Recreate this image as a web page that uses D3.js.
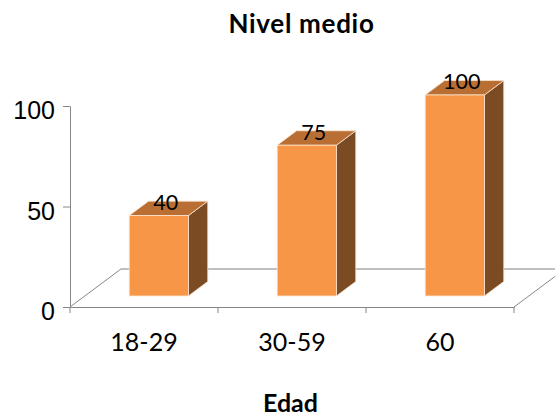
<!DOCTYPE html>
<html lang="es">
<head>
    <meta charset="utf-8"/>
    <style>
        body {
            margin: 0;
            background: #fff;
        }
        svg {
            display: block;
            font-family: Lato, "Open Sans", sans-serif;
        }
        .floor-back {
            stroke: #bfbfbf;
            stroke-width: 2px;
            fill: none;
        }
        .floor-front {
            stroke: #868686;
            stroke-width: 1px;
            fill: none;
        }
        .axis path, .axis line {
            stroke: #868686;
        }
        .axis text {
            font-size: 25px;
            fill: #000;
        }
    </style>
    <script src="https://d3js.org/d3.v7.min.js" charset="utf-8"></script>
</head>
<body>
<svg id="chart" width="555" height="418"></svg>
<script>
    // data
    var categories = ['18-29', '30-59', '60'];
    var values = [40, 75, 100];
    var yTicks = [0, 50, 100];
    var title = 'Nivel medio';
    var xTitle = 'Edad';

    var svg = d3.select('#chart');

    // oblique depth: full floor depth moves (51, -38)
    var depthX = 51, depthY = -38;
    var zFront = 0.29, zBack = 0.67;

    var x = d3.scaleBand()
        .domain(categories)
        .range([70, 514])
        .paddingInner(0.6)
        .paddingOuter(0.3);
    var xCat = d3.scaleBand()
        .domain(categories)
        .range([70, 514]);
    var y = d3.scaleLinear()
        .domain([0, 100])
        .range([307, 106]);

    function pt(px, py, z) {
        return [px + z * depthX, py + z * depthY];
    }

    var x0 = 70, x1 = 514, yBase = y(0);

    // floor
    svg.append('path')
        .classed('floor-back', true)
        .attr('d', d3.line()([pt(x0, yBase, 1), pt(x1, yBase, 1)]));
    svg.append('path')
        .classed('floor-front', true)
        .attr('d', d3.line()([pt(x0, yBase, 0), pt(x0, yBase, 1)]));
    svg.append('path')
        .classed('floor-front', true)
        .attr('d', d3.line()([pt(x1, yBase, 0), pt(x1, yBase, 1)]));

    // bars
    var dx = (zBack - zFront) * depthX, dy = (zBack - zFront) * depthY;
    var bars = svg.selectAll('g.bar')
        .data(values)
        .enter().append('g')
        .classed('bar', true);

    bars.append('path')
        .attr('fill', '#7b4b24')
        .attr('stroke', '#fbe3cf')
        .attr('stroke-width', 0.8)
        .attr('d', function(d, i) {
            var a = pt(x(categories[i]) + x.bandwidth(), y(d), zFront),
                b = pt(x(categories[i]) + x.bandwidth(), y(0), zFront);
            return d3.line()([a, [a[0] + dx, a[1] + dy], [b[0] + dx, b[1] + dy], b]) + 'Z';
        });
    bars.append('path')
        .attr('fill', '#b96f34')
        .attr('stroke', '#fbe3cf')
        .attr('stroke-width', 0.8)
        .attr('d', function(d, i) {
            var a = pt(x(categories[i]), y(d), zFront),
                b = pt(x(categories[i]) + x.bandwidth(), y(d), zFront);
            return d3.line()([a, [a[0] + dx, a[1] + dy], [b[0] + dx, b[1] + dy], b]) + 'Z';
        });
    bars.append('rect')
        .attr('fill', '#f79646')
        .attr('stroke', '#fde4cf')
        .attr('stroke-width', 0.8)
        .attr('x', function(d, i) { return pt(x(categories[i]), 0, zFront)[0]; })
        .attr('y', function(d) { return pt(0, y(d), zFront)[1]; })
        .attr('width', x.bandwidth())
        .attr('height', function(d) { return y(0) - y(d); });

    bars.append('text')
        .attr('x', function(d, i) { return pt(x(categories[i]) + x.bandwidth() / 2, 0, zFront)[0] + 7; })
        .attr('y', function(d) { return pt(0, y(d), zFront)[1] - 5.5; })
        .attr('text-anchor', 'middle')
        .attr('font-size', '21.5px')
        .text(function(d) { return d; });

    // axes
    var yAxis = svg.append('g')
        .classed('axis', true)
        .attr('transform', 'translate(70,0)')
        .call(d3.axisLeft(y).tickValues(yTicks).tickSize(7).tickPadding(8).tickSizeOuter(0));
    yAxis.selectAll('text').attr('dy', '0.5em');

    var xAxis = svg.append('g')
        .classed('axis', true)
        .attr('transform', 'translate(0,' + yBase + ')')
        .call(d3.axisBottom(xCat).tickSize(0).tickSizeOuter(0).tickFormat(''));
    xAxis.selectAll('.tick').remove();
    xAxis.selectAll('.edge')
        .data([70].concat(categories.map(function(c) { return xCat(c) + xCat.bandwidth(); })))
        .enter().append('line')
        .attr('x1', function(d) { return d; })
        .attr('x2', function(d) { return d; })
        .attr('y1', 0)
        .attr('y2', 6)
        .attr('stroke', '#868686');

    svg.selectAll('text.cat')
        .data(categories)
        .enter().append('text')
        .classed('cat', true)
        .attr('x', function(d) { return xCat(d) + xCat.bandwidth() / 2; })
        .attr('y', 351)
        .attr('text-anchor', 'middle')
        .attr('font-size', '25px')
        .text(function(d) { return d; });

    // titles
    svg.append('text')
        .attr('x', 301.5)
        .attr('y', 33)
        .attr('text-anchor', 'middle')
        .attr('font-size', '26px')
        .attr('letter-spacing', '0.7px')
        .attr('font-weight', 'bold')
        .text(title);
    svg.append('text')
        .attr('x', 290.5)
        .attr('y', 411.5)
        .attr('text-anchor', 'middle')
        .attr('font-size', '25px')
        .attr('font-weight', 'bold')
        .text(xTitle);
</script>
</body>
</html>
